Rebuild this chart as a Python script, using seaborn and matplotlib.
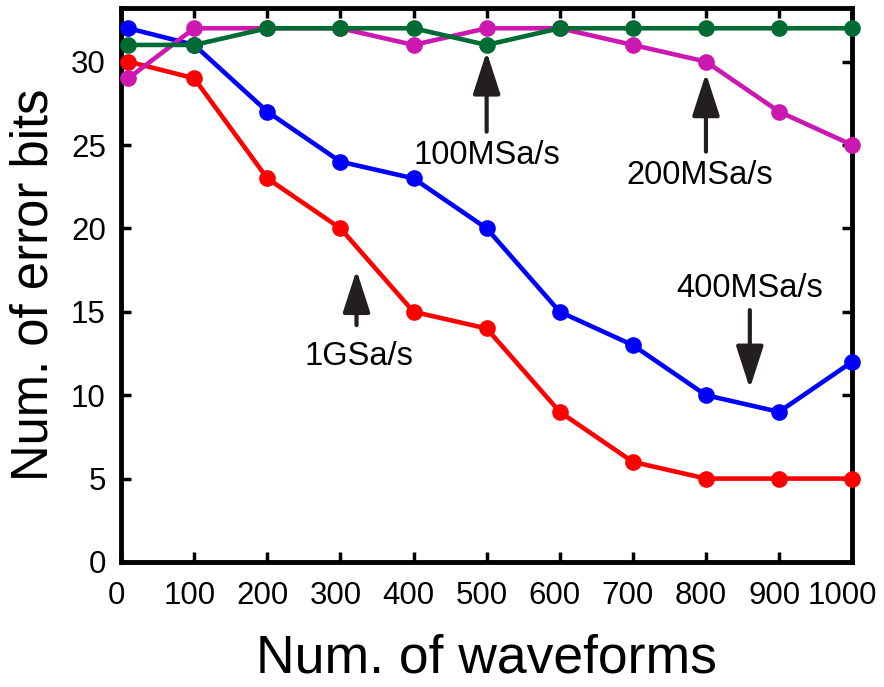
import matplotlib
matplotlib.use("Agg")
import matplotlib.pyplot as plt
from matplotlib.transforms import ScaledTranslation
import seaborn as sns
import pandas as pd

waveforms = [10, 100, 200, 300, 400, 500, 600, 700, 800, 900, 1000]
bits_1g = [30, 29, 23, 20, 15, 14, 9, 6, 5, 5, 5]
bits_400m = [32, 31, 27, 24, 23, 20, 15, 13, 10, 9, 12]
bits_200m = [29, 32, 32, 32, 31, 32, 32, 31, 30, 27, 25]
bits_100m = [31, 31, 32, 32, 32, 31, 32, 32, 32, 32, 32]
series_names = ["1GSa/s", "400MSa/s", "200MSa/s", "100MSa/s"]
xticks = [0, 100, 200, 300, 400, 500, 600, 700, 800, 900, 1000]
yticks = [0, 5, 10, 15, 20, 25, 30]

sns.set_style("ticks")
plt.rcParams['font.family'] = ['Liberation Sans', 'DejaVu Sans']
plt.rcParams['text.color'] = 'black'
plt.rcParams['axes.labelcolor'] = 'black'
plt.rcParams['xtick.color'] = 'black'
plt.rcParams['ytick.color'] = 'black'
plt.rcParams['axes.edgecolor'] = 'black'

rows = []
for name, vals in zip(series_names, [bits_1g, bits_400m, bits_200m, bits_100m]):
    for x, v in zip(waveforms, vals):
        rows.append({"x": x, "y": v, "series": name})
df = pd.DataFrame(rows)

colors = {"1GSa/s": "#ff0000", "400MSa/s": "#0000ff",
          "200MSa/s": "#cc17b0", "100MSa/s": "#006b33"}

fig = plt.figure(figsize=(8.84, 6.87), dpi=100)
ax = fig.add_axes([0.137, 0.182, 0.827, 0.806])

for name in series_names:
    sub = df[df["series"] == name]
    sns.lineplot(data=sub, x="x", y="y", color=colors[name], marker="o",
                 markersize=12, markeredgewidth=0, linewidth=3.3, ax=ax,
                 legend=False, clip_on=False, zorder=3)

ax.set_xlim(0, 1000)
ax.set_ylim(0, 33.2)
ax.set_xticks(xticks)
ax.set_yticks(yticks)
ax.tick_params(direction="in", length=7, width=2.5, labelsize=22.5,
               top=True, right=True, colors="black")
ax.tick_params(axis="x", labeltop=False, pad=14)
ax.tick_params(axis="y", labelright=False, pad=11)
for s in ax.spines.values():
    s.set_linewidth(3.5)
    s.set_visible(True)
    s.set_color("black")
ax.set_xlabel("Num. of waveforms", fontsize=38.5, labelpad=16, color="black")
ax.set_ylabel("Num. of error bits", fontsize=36.5, labelpad=9, color="black")

# nudge x tick labels slightly left as in the reference
xlabels = ax.get_xticklabels()
for i, lab in enumerate(xlabels):
    dx = -10 if i == len(xlabels) - 1 else -5
    lab.set_transform(lab.get_transform() + ScaledTranslation(dx / 100, 0, fig.dpi_scale_trans))

arrow_color = "#231f20"
aprops = dict(arrowstyle="-|>,head_length=1.3,head_width=0.42", color=arrow_color,
              lw=3, mutation_scale=20, shrinkA=0, shrinkB=0)

ax.annotate("", xy=(500, 30.6), xytext=(500, 25.8), arrowprops=aprops)
ax.text(500, 24.4, "100MSa/s", fontsize=23.5, ha="center", va="center", color="black")

ax.annotate("", xy=(800, 29.3), xytext=(800, 24.6), arrowprops=aprops)
ax.text(791, 23.2, "200MSa/s", fontsize=23.5, ha="center", va="center", color="black")

ax.annotate("", xy=(322, 17.5), xytext=(322, 14.2), arrowprops=aprops)
ax.text(326, 12.3, "1GSa/s", fontsize=23.5, ha="center", va="center", color="black")

ax.annotate("", xy=(860, 10.4), xytext=(860, 15.1), arrowprops=aprops)
ax.text(860, 16.4, "400MSa/s", fontsize=23.5, ha="center", va="center", color="black")

fig.savefig("out.png", dpi=100)
